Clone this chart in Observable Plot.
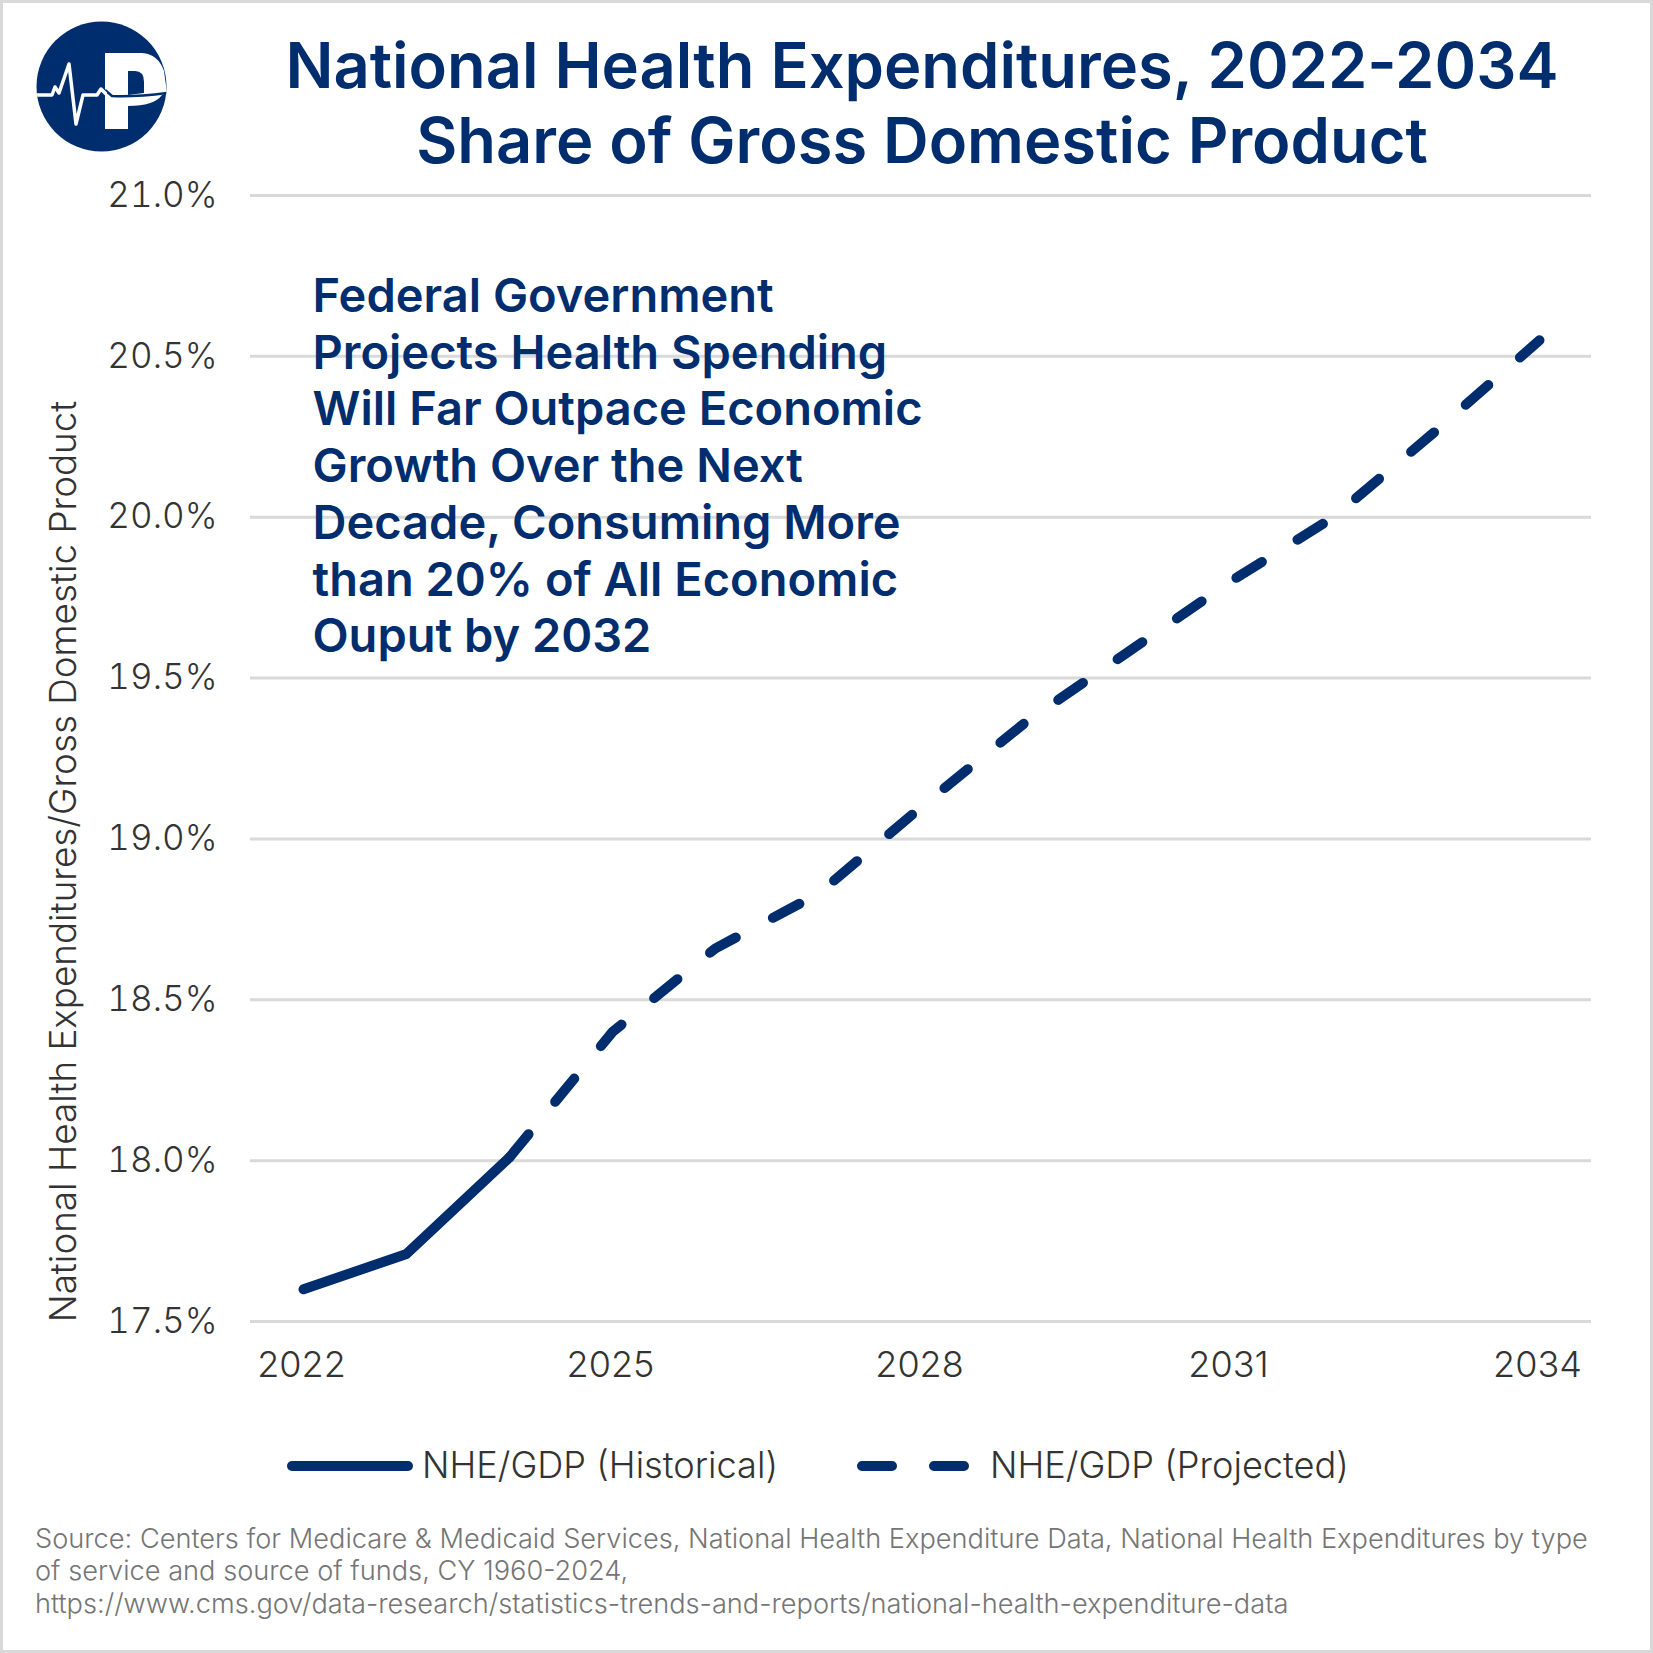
<!DOCTYPE html>
<html><head><meta charset="utf-8">
<script src="https://cdn.jsdelivr.net/npm/d3@7"></script>
<script src="https://cdn.jsdelivr.net/npm/@observablehq/plot@0.6"></script>
<style>
html,body{margin:0;padding:0;background:#fff}
#page{position:relative;width:1653px;height:1653px;box-sizing:border-box;border:3px solid #d9d9d9;font-family:Inter,sans-serif;overflow:hidden}
#title{position:absolute;left:214px;top:25px;width:1410px;text-align:center;color:#002d6d;font-size:63.2px;font-weight:600;line-height:75px;letter-spacing:0}
#logo{position:absolute;left:33px;top:18px}
#chart{position:absolute;left:-3px;top:-3px;width:1653px}
#legend{position:absolute;left:-3px;top:1434px;width:1653px;height:60px;color:#333;font-size:36.2px;font-weight:300}
#legend svg{position:absolute;top:0;left:0}
#legend span{position:absolute;top:6px;white-space:nowrap}
#source{position:absolute;left:32px;top:1520px;width:1610px;color:#757575;font-size:27.2px;line-height:32.3px;font-weight:300;white-space:nowrap}
</style></head><body>
<div id="page">
<svg id="logo" width="132" height="132" viewBox="0 0 132 132">
<defs><clipPath id="disc"><circle cx="65.5" cy="65.5" r="65"/></clipPath></defs>
<circle cx="65.5" cy="65.5" r="65" fill="#002d6d"/>
<g clip-path="url(#disc)">
<path d="M69 32H106Q122 33 128 50L131 72L126 74Q118 85 92 85V108H69Z" fill="#fff"/>
<path d="M92 50H99Q108 50 108 61V72L92 74Z" fill="#002d6d"/>
<path d="M69 69L76 75Q100 76 131 72" fill="none" stroke="#002d6d" stroke-width="2.5"/>
<path d="M0 74H16L19 66L23 72L33 43L40 103L47 74H61L65 68L70 73" fill="none" stroke="#fff" stroke-width="3.5" stroke-linejoin="round"/>
</g>
</svg>
<div id="title">National Health Expenditures, 2022-2034<br>Share of Gross Domestic Product</div>
<div id="chart"></div>
<div id="legend">
<svg width="1653" height="60">
<line x1="292" x2="408" y1="29" y2="29" stroke="#002d6d" stroke-width="10" stroke-linecap="round"/>
<line x1="862" x2="968" y1="29" y2="29" stroke="#002d6d" stroke-width="10" stroke-linecap="round" stroke-dasharray="30 42"/>
</svg>
<span style="left:422px">NHE/GDP (Historical)</span>
<span style="left:990px">NHE/GDP (Projected)</span>
</div>
<div id="source">Source: Centers for Medicare &amp; Medicaid Services, National Health Expenditure Data, National Health Expenditures by type<br>of service and source of funds, CY 1960-2024,<br>https://www.cms.gov/data-research/statistics-trends-and-reports/national-health-expenditure-data</div>
</div>
<script>
const historicalYears = [2022, 2023, 2024];
const historicalValues = [17.6, 17.71, 18.01];
const projectedYears = [2024, 2025, 2026, 2027, 2028, 2029, 2030, 2031, 2032, 2033, 2034];
const projectedValues = [18.01, 18.4, 18.66, 18.83, 19.1, 19.36, 19.58, 19.8, 20.0, 20.27, 20.55];
const yTicks = [17.5, 18, 18.5, 19, 19.5, 20, 20.5, 21];
const xTicks = [2022, 2025, 2028, 2031, 2034];
const allYears = d3.range(2022, 2035);
const note = "Federal Government\nProjects Health Spending\nWill Far Outpace Economic\nGrowth Over the Next\nDecade, Consuming More\nthan 20% of All Economic\nOuput by 2032";
const navy = "#002d6d";
const hist = historicalYears.map((year, i) => ({year, value: historicalValues[i]}));
const proj = projectedYears.map((year, i) => ({year, value: projectedValues[i]}));

const chart = Plot.plot({
  width: 1653, height: 1420,
  marginLeft: 250, marginRight: 62, marginTop: 195, marginBottom: 99,
  style: {fontFamily: "Inter, sans-serif", background: "transparent"},
  x: {type: "point", domain: allYears, padding: 0.5, label: null},
  y: {domain: [17.5, 21], label: null},
  marks: [
    Plot.ruleY(yTicks, {stroke: "#d9d9d9", strokeWidth: 3}),
    Plot.axisX({ticks: xTicks, tickSize: 0, tickPadding: 30, dx: -2, fontSize: 36, fontWeight: 300, fill: "#333", label: null, tickFormat: d => String(d)}),
    Plot.axisY({ticks: yTicks, tickSize: 0, tickPadding: 33, fontSize: 35, fontWeight: 300, fill: "#333", label: null, tickFormat: d => d.toFixed(1) + "%"}),
    Plot.text(["National Health Expenditures/Gross Domestic Product"], {frameAnchor: "left", rotate: -90, dx: -186, dy: 103, fontSize: 36.8, fontWeight: 300, fill: "#333", text: d => d, textAnchor: "middle"}),
    Plot.line(proj, {x: "year", y: "value", stroke: navy, strokeWidth: 10, strokeLinecap: "round", strokeLinejoin: "round", strokeDasharray: "30 42"}),
    Plot.line(hist, {x: "year", y: "value", stroke: navy, strokeWidth: 10, strokeLinecap: "round", strokeLinejoin: "round"}),
    Plot.text([note], {frameAnchor: "top-left", dx: 62, dy: 76, lineAnchor: "top", textAnchor: "start", lineHeight: 1.208, fontSize: 47, fontWeight: 600, fill: navy, text: d => d})
  ]
});
document.getElementById("chart").appendChild(chart);
</script>
</body></html>
